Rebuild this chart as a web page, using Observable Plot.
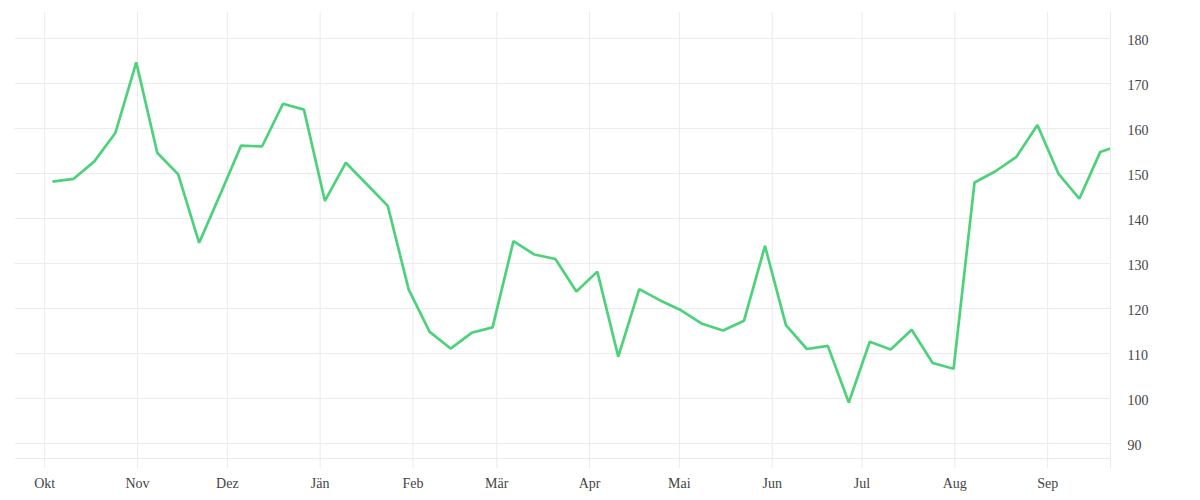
<!DOCTYPE html>
<html>
<head>
<meta charset="utf-8">
<script src="https://cdn.jsdelivr.net/npm/d3@7"></script>
<script src="https://cdn.jsdelivr.net/npm/@observablehq/plot@0.6"></script>
<style>
  html, body { margin: 0; padding: 0; background: #fff; }
  #chart svg { display: block; }
</style>
</head>
<body>
<div id="chart"></div>
<script>
// Weekly values (first week starting early October 2022)
const firstWeek = "2022-10-03T14:00:00Z";
const values = [
  148.2, 148.8, 152.7, 159.0, 174.7, 154.6, 149.8, 134.6, 145.3, 156.2,
  156.0, 165.5, 164.2, 143.9, 152.4, 147.6, 142.8, 124.2, 114.8, 111.1,
  114.6, 115.8, 135.0, 132.0, 131.0, 123.8, 128.2, 109.3, 124.3, 121.8,
  119.6, 116.6, 115.1, 117.3, 133.9, 116.3, 111.0, 111.7, 99.1, 112.6,
  110.9, 115.3, 107.9, 106.6, 148.0, 150.5, 153.7, 160.8, 150.0, 144.4,
  154.8, 156.4
];
const monthTicks = [
  "2022-10-01", "2022-11-01", "2022-12-01", "2023-01-01", "2023-02-01", "2023-03-01",
  "2023-04-01", "2023-05-01", "2023-06-01", "2023-07-01", "2023-08-01", "2023-09-01"
];
const monthLabels = ["Okt", "Nov", "Dez", "Jän", "Feb", "Mär", "Apr", "Mai", "Jun", "Jul", "Aug", "Sep"];
const yTicks = [90, 100, 110, 120, 130, 140, 150, 160, 170, 180];
const xDomain = ["2022-09-21T05:45:00Z", "2023-09-22T00:00:00Z"];
const yDomain = [86.67, 185.78];

const start = new Date(firstWeek);
const data = values.map((v, i) => ({ date: d3.utcDay.offset(start, 7 * i), value: v }));
const tickDates = monthTicks.map(d => new Date(d + "T00:00:00Z"));
const labelOf = new Map(tickDates.map((d, i) => [+d, monthLabels[i]]));
const x0 = new Date(xDomain[0]), x1 = new Date(xDomain[1]);

const gridColor = "#ebebeb";
const textColor = "#444";

const chart = Plot.plot({
  width: 1200,
  height: 500,
  marginLeft: 15,
  marginRight: 90,
  marginTop: 12,
  marginBottom: 42,
  style: { fontFamily: "'Liberation Serif', serif", fontSize: "14px", color: textColor, background: "#fff" },
  x: { type: "utc", domain: [x0, x1] },
  y: { domain: yDomain },
  marks: [
    // vertical grid (month starts + right edge)
    Plot.ruleX([...tickDates, x1], { y1: yDomain[0] - 10 / 4.5, y2: yDomain[1], stroke: gridColor, strokeWidth: 1 }),
    // horizontal grid
    Plot.ruleY([yDomain[0], ...yTicks], { x1: x0, x2: x1, stroke: gridColor, strokeWidth: 1 }),
    Plot.line(data, { x: "date", y: "value", stroke: "#4dd27b", strokeWidth: 2.7, clip: true, strokeLinejoin: "miter", strokeLinecap: "butt" }),
    Plot.axisX(tickDates, {
      tickSize: 0, tickPadding: 20, tickFormat: d => labelOf.get(+d),
      fill: textColor, fontSize: 14, label: null
    }),
    Plot.axisY(yTicks, {
      anchor: "right", tickSize: 0, tickPadding: 17, textAnchor: "start", dy: 2,
      fill: textColor, fontSize: 14, label: null
    })
  ]
});
document.getElementById("chart").appendChild(chart);
</script>
</body>
</html>
